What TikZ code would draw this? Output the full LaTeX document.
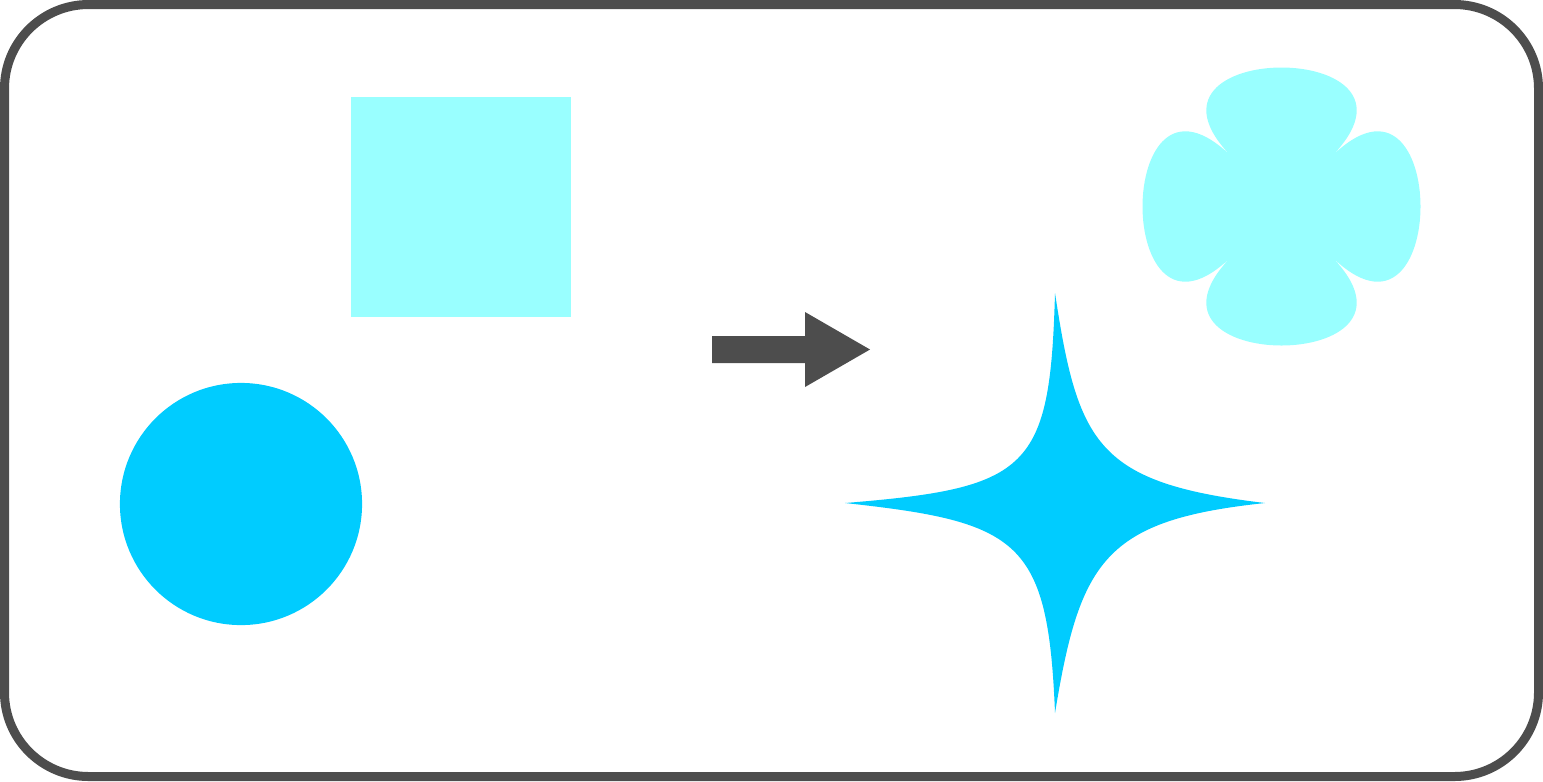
\documentclass[tikz,border=0pt]{standalone}
\usepackage{xcolor}
\usepackage{tikz}

\definecolor{shapegrey}{HTML}{4D4D4D}
\definecolor{shapecyan}{HTML}{99FFFF}
\definecolor{shapeblue}{HTML}{00CCFF}

\begin{document}
\begin{tikzpicture}[x=0.01cm, y=-0.01cm]

\useasboundingbox (0,0) rectangle (1543,781);

% frame
\draw[shapegrey, line width=0.09cm, rounded corners=0.84cm] (4.5,4.5) rectangle (1538.5,776.5);

% square
\fill[shapecyan] (351,97) rectangle (571,317);

% circle
\fill[shapeblue] (241,504) circle (1.21cm);

% arrow
\fill[shapegrey] (712,336)--(805,336)--(805,312)--(870,349.5)--(805,387)--(805,363)--(712,363)--cycle;

% star
\def \b {1055}
\def \c {503}
\fill[shapeblue] (\b-210,\c) .. controls (\b-25,\c-15) and (\b-5,\c-33) .. (\b,\c-210)
	.. controls (\b+23,\c-58) and (\b+42,\c-20) .. (\b+210,\c)
	.. controls (\b+50,\c+17) and (\b+25,\c+57) .. (\b,\c+210)
	.. controls (\b-7,\c+37) and (\b-35,\c+19) .. cycle;

% flower
\def \b {1281.5}
\def \c {206.5}
\fill[shapecyan] (\b-49,\c-49) .. controls (\b-169,\c-169) and (\b+169,\c-169) .. (\b+49,\c-49)
	.. controls (\b+169,\c-169) and (\b+169,\c+169) .. (\b+49,\c+49)
	.. controls (\b+169,\c+169) and (\b-169,\c+169) .. (\b-49,\c+49)
	.. controls (\b-169,\c+169) and (\b-169,\c-169) .. cycle;

\end{tikzpicture}
\end{document}
